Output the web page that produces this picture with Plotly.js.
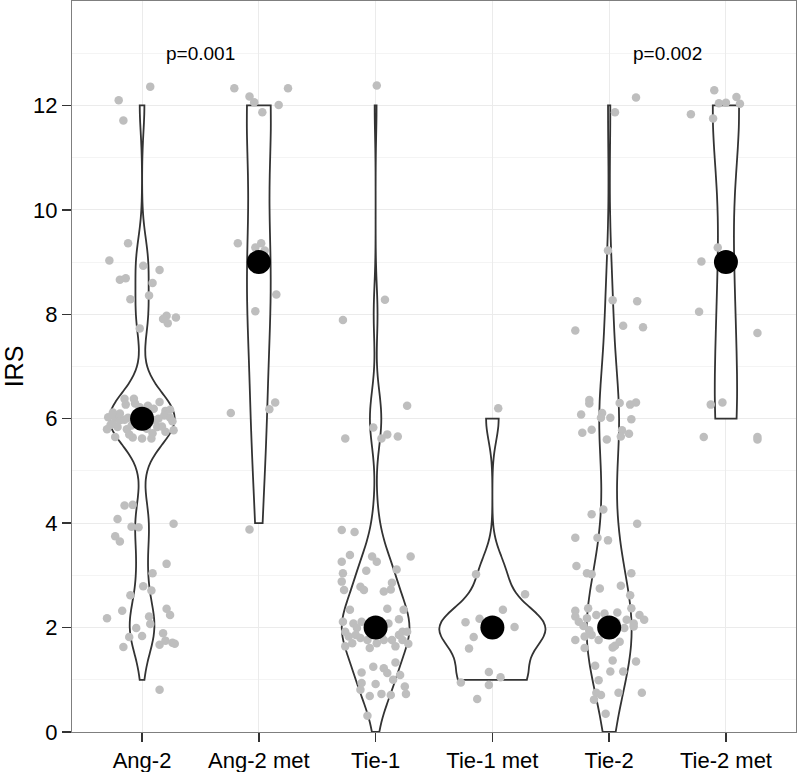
<!DOCTYPE html>
<html>
<head>
<meta charset="utf-8">
<script src="https://cdn.plot.ly/plotly-3.0.1.min.js"></script>
<style>
html,body{margin:0;padding:0;background:#fff;}
#chart{width:797px;height:772px;}
</style>
</head>
<body>
<div id="chart"></div>
<script>
// ---- categories / ticks ----
const categories = ["Ang-2", "Ang-2 met", "Tie-1", "Tie-1 met", "Tie-2", "Tie-2 met"];
const yTickVals = [0, 2, 4, 6, 8, 10, 12];
const yMinorVals = [1, 3, 5, 7, 9, 11, 13];

// ---- IRS points as displayed (jittered y) and horizontal jitter ----
const ang2_y = [12.36, 12.10, 11.71, 9.36, 9.03, 8.93, 8.85, 8.66, 8.69, 8.60, 8.29, 8.36, 7.97, 7.91, 7.83, 7.94, 7.73,
  6.38, 6.38, 6.27, 6.29, 6.32, 6.19, 6.15, 6.17, 6.03, 6.02, 5.97, 5.98, 6.02, 5.90, 5.84, 5.80, 5.80, 5.65, 5.64, 5.62, 5.62, 5.84, 5.85, 5.97, 6.06, 6.02, 5.95, 5.78, 5.81, 6.10, 6.10, 5.87,
  6.22, 5.92, 6.05, 5.75, 6.12, 5.70, 6.25, 5.88, 6.00, 5.72,
  4.34, 4.35, 4.08, 3.99, 3.93, 3.92, 3.75, 3.65, 3.22, 3.04, 2.79, 2.71, 2.62,
  2.36, 2.24, 2.32, 2.18, 2.21, 2.07, 1.99, 1.82, 1.84, 1.89, 1.75, 1.71, 1.69, 1.67, 1.63, 0.81];
const ang2_dx = [0.07, -0.20, -0.16, -0.12, -0.28, 0.01, 0.15, -0.19, -0.14, 0.09, -0.10, 0.06, 0.21, 0.18, 0.22, 0.29, -0.02,
  -0.15, -0.07, -0.14, -0.06, 0.15, 0.10, 0.20, 0.24, -0.29, -0.23, -0.19, -0.15, -0.12, -0.25, -0.21, -0.30, -0.13, -0.23, -0.08, 0.00, 0.08, 0.13, 0.17, 0.11, 0.19, 0.24, 0.26, 0.27, 0.04, -0.05, -0.19, -0.09,
  -0.02, 0.06, 0.02, 0.20, -0.25, -0.11, 0.05, -0.27, 0.14, 0.09,
  -0.15, -0.08, -0.21, 0.27, -0.09, -0.03, -0.23, -0.19, 0.21, 0.09, 0.01, 0.08, -0.10,
  0.21, 0.24, -0.17, -0.30, 0.06, 0.07, -0.05, -0.11, 0.00, 0.18, 0.20, 0.26, 0.28, 0.15, -0.16, 0.15];

const ang2met_y = [12.33, 12.17, 12.06, 11.87, 12.01, 12.33, 9.36, 9.36, 9.28, 9.22, 8.38, 8.06, 6.11, 6.18, 6.31, 3.88];
const ang2met_dx = [-0.21, -0.08, -0.04, 0.03, 0.17, 0.25, -0.18, 0.02, -0.03, 0.05, 0.15, -0.03, -0.24, 0.09, 0.14, -0.08];

const tie1_y = [12.38, 8.28, 7.89, 6.25, 5.83, 5.62, 5.62, 5.70, 5.66, 3.87, 3.83,
  3.39, 3.26, 3.36, 3.26, 3.36, 3.04, 3.09, 3.11, 2.88, 2.72, 2.78, 2.72, 2.86, 2.73, 2.69,
  2.34, 2.36, 2.34, 2.11, 2.08, 2.11, 2.16, 2.08, 1.92, 1.99, 1.83, 1.86, 1.80, 1.70, 1.64, 1.76, 1.61, 1.70, 1.76, 1.76, 1.86, 1.92, 1.92, 1.64, 1.76, 1.69, 1.86, 1.86, 2.04, 1.97,
  1.25, 1.22, 1.14, 1.33, 1.13, 1.09, 1.00, 0.94, 0.92, 0.81, 0.87, 0.69, 0.73, 0.71, 0.73, 0.31];
const tie1_dx = [0.01, 0.08, -0.28, 0.27, -0.02, -0.26, 0.05, 0.10, 0.19, -0.29, -0.18,
  -0.22, -0.29, -0.03, 0.01, 0.30, -0.28, -0.08, 0.18, -0.29, -0.27, -0.13, -0.10, 0.14, 0.13, 0.07,
  -0.22, 0.10, 0.24, -0.28, -0.19, -0.12, 0.20, 0.11, -0.26, -0.16, -0.23, -0.17, -0.13, -0.20, -0.26, -0.07, -0.05, 0.01, 0.07, 0.14, 0.20, 0.23, 0.27, 0.17, 0.23, 0.28, -0.03, 0.05, 0.02, -0.03,
  -0.02, 0.07, -0.12, 0.17, 0.10, 0.21, 0.15, -0.12, 0.00, -0.13, 0.25, -0.05, 0.05, 0.13, 0.26, -0.07];

const tie1met_y = [6.20, 3.02, 2.64, 2.34, 2.17, 2.10, 2.01, 1.82, 1.60, 1.15, 1.05, 0.95, 0.90, 0.63, 2.05, 1.95];
const tie1met_dx = [0.05, -0.14, 0.28, 0.09, -0.11, -0.23, 0.19, -0.16, -0.20, -0.03, 0.07, -0.27, -0.03, -0.13, 0.03, -0.04];

const tie2_y = [12.15, 11.87, 9.22, 8.27, 8.25, 7.69, 7.78, 7.75,
  6.36, 6.29, 6.30, 6.27, 6.31, 6.08, 6.11, 6.02, 6.02, 5.99, 5.73, 5.79, 5.60, 5.78, 5.66, 5.71,
  4.26, 4.17, 3.99, 3.72, 3.72, 3.67,
  3.18, 3.04, 3.02, 3.04, 2.75, 2.80, 2.62,
  2.37, 2.32, 2.21, 2.37, 2.11, 2.03, 2.18, 2.24, 2.27, 2.29, 2.15, 2.08, 2.24, 2.15, 1.99, 2.02, 1.83, 1.86, 1.76, 1.76, 1.65, 1.73, 1.61, 1.62, 1.95, 2.05, 1.95, 2.10,
  1.37, 1.35, 1.27, 1.16, 1.16, 0.99, 0.75, 0.71, 0.75, 0.75, 0.62, 0.35];
const tie2_dx = [0.23, 0.05, -0.01, 0.03, 0.24, -0.29, 0.12, 0.29,
  -0.17, -0.17, 0.09, 0.18, 0.23, -0.24, -0.06, -0.07, 0.01, 0.19, -0.23, -0.15, -0.02, 0.11, 0.10, 0.17,
  -0.05, -0.15, 0.24, -0.29, -0.10, -0.01,
  -0.28, -0.19, -0.15, 0.19, -0.08, 0.10, 0.18,
  0.19, -0.29, -0.29, -0.18, -0.26, -0.22, -0.19, -0.11, -0.04, 0.07, 0.15, 0.21, 0.26, 0.30, 0.13, 0.21, -0.21, -0.15, -0.29, -0.09, 0.05, 0.09, -0.21, 0.03, -0.17, 0.02, -0.05, 0.06,
  0.03, 0.23, -0.12, 0.01, 0.12, -0.09, -0.11, -0.07, 0.08, 0.28, -0.13, -0.03];

const tie2met_y = [12.29, 12.04, 12.05, 12.16, 12.03, 11.83, 11.75, 9.28, 9.01, 8.05, 7.64, 6.27, 6.31, 5.65, 5.65, 5.60];
const tie2met_dx = [-0.10, -0.06, 0.00, 0.09, 0.12, -0.30, -0.11, -0.07, -0.21, -0.23, 0.27, -0.13, -0.03, -0.19, 0.27, 0.27];

// ---- annotations ----
const pLabels = ["p=0.001", "p=0.002"];
const pX = [1.5, 5.5];
const pY = [13, 13];

// ---- styles ----
const violinWidths = [0.56, 0.205, 0.58, 0.91, 0.385, 0.225];
const bandwidths = [0.5, 1.35, 0.55, 0.42, 1.0, 1.35];
const FONT = "Liberation Sans, Arial, Helvetica, sans-serif";

const groupsY = [ang2_y, ang2met_y, tie1_y, tie1met_y, tie2_y, tie2met_y];
const groupsDX = [ang2_dx, ang2met_dx, tie1_dx, tie1met_dx, tie2_dx, tie2met_dx];

function median(a) {
  const s = a.slice().sort((p, q) => p - q);
  const n = s.length;
  return n % 2 ? s[(n - 1) / 2] : (s[n / 2 - 1] + s[n / 2]) / 2;
}

const traces = [];
const medX = [], medY = [];
groupsY.forEach((ys, i) => {
  const scores = ys.map(v => Math.round(v)); // underlying IRS scores (jitter removed)
  traces.push({
    type: 'violin', x0: i + 1, y: scores, name: categories[i],
    width: violinWidths[i], bandwidth: bandwidths[i], spanmode: 'hard',
    points: false, box: {visible: false}, meanline: {visible: false},
    fillcolor: '#ffffff', line: {color: '#333333', width: 1.8},
    showlegend: false, hoverinfo: 'skip'
  });
  medX.push(i + 1);
  medY.push(median(scores));
});
groupsY.forEach((ys, i) => {
  traces.push({
    type: 'scatter', mode: 'markers',
    x: groupsDX[i].map(d => i + 1 + d), y: ys,
    marker: {color: '#bebebe', size: 8.5, line: {width: 0}},
    showlegend: false, hoverinfo: 'skip'
  });
});
traces.push({
  type: 'scatter', mode: 'markers', x: medX, y: medY,
  marker: {color: '#000000', size: 24, line: {width: 0}},
  showlegend: false, hoverinfo: 'skip'
});

const layout = {
  width: 797, height: 772,
  margin: {l: 72, r: 1, t: 1, b: 40, pad: 0},
  paper_bgcolor: '#ffffff', plot_bgcolor: '#ffffff',
  font: {family: FONT, color: '#000000'},
  showlegend: false,
  violinmode: 'overlay',
  xaxis: {
    range: [0.4, 6.6], tickmode: 'array', tickvals: [1, 2, 3, 4, 5, 6], ticktext: categories,
    showgrid: true, gridcolor: '#ebebeb', gridwidth: 1, zeroline: false,
    showline: true, mirror: true, linecolor: '#7f7f7f', linewidth: 1,
    ticks: 'outside', ticklen: 9, tickwidth: 1.5, tickcolor: '#333333',
    tickfont: {family: FONT, size: 22, color: '#000000'}, fixedrange: true
  },
  yaxis: {
    range: [0, 14], tickmode: 'array', tickvals: yTickVals, ticktext: yTickVals.map(String),
    showgrid: true, gridcolor: '#ebebeb', gridwidth: 1, zeroline: false,
    showline: true, mirror: true, linecolor: '#7f7f7f', linewidth: 1,
    ticks: 'outside', ticklen: 9, tickwidth: 1.5, tickcolor: '#333333',
    tickfont: {family: FONT, size: 22, color: '#000000'},
    minor: {tickmode: 'array', tickvals: yMinorVals, showgrid: true, gridcolor: '#f4f4f4', gridwidth: 1, ticks: ''},
    title: {text: 'IRS', font: {family: FONT, size: 25, color: '#000000'}, standoff: 5},
    fixedrange: true
  },
  annotations: pLabels.map((t, k) => ({
    x: pX[k], y: pY[k], xref: 'x', yref: 'y', text: t, showarrow: false,
    xanchor: 'center', yanchor: 'middle',
    font: {family: FONT, size: 19, color: '#000000'}
  }))
};

Plotly.newPlot('chart', traces, layout, {staticPlot: true, displayModeBar: false});
</script>
</body>
</html>
